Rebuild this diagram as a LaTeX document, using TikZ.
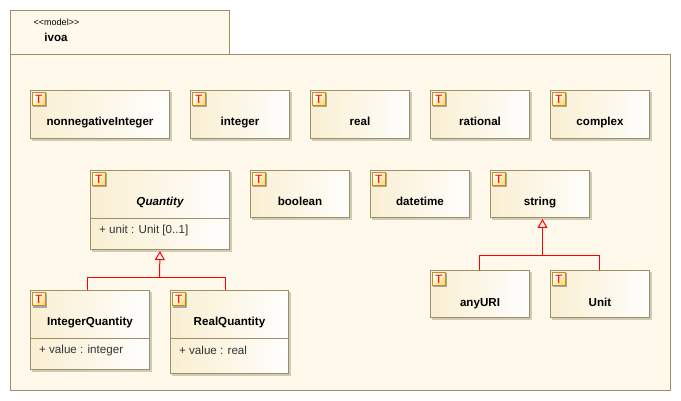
\documentclass[tikz,border=0pt]{standalone}
\usepackage{fontspec}
\setmainfont{Liberation Sans}
\usetikzlibrary{arrows.meta,shadows}
\definecolor{pkgfill}{HTML}{FFF9EC}
\definecolor{pkgline}{HTML}{A08F63}
\definecolor{boxfill}{HTML}{F9EFD2}
\definecolor{iconline}{HTML}{C0901A}
\definecolor{iconfill}{HTML}{FBD97E}
\definecolor{shadowline}{HTML}{D0CAB8}
\tikzset{
	pkgbox/.style={draw=pkgline, fill=pkgfill, line width=1pt},
	typebox/.style={draw=pkgline, line width=1pt, left color=boxfill, right color=white, middle color=white!45!boxfill,
		copy shadow={shadow xshift=2pt, shadow yshift=-2pt, draw=shadowline, fill=shadowline},
		inner sep=0pt, minimum width=99pt, minimum height=47pt, text height=24pt, text depth=2pt, font=\fontsize{11.6}{13}\selectfont\bfseries},
	lowbox/.style={typebox, text height=26pt},
	typeicon/.style={draw=iconline, line width=1pt, left color=white, right color=iconfill, shading angle=45,
		copy shadow={shadow xshift=1.5pt, shadow yshift=-1.5pt, draw=black!35, fill=black!35},
		inner sep=0pt, minimum size=13pt, text=red, font=\fontsize{12}{12}\selectfont},
	attr/.style={anchor=west, inner sep=0pt, text=black!80, font=\fontsize{11.6}{13}\selectfont},
	genline/.style={draw=red, line width=1pt},
	gentip/.style={draw=red, line width=1pt, shorten >=1pt, -{Triangle[open, length=9pt, width=10pt, fill=pkgfill]}},
}
\begin{document}
\begin{tikzpicture}[x=1pt, y=-1pt]
	\useasboundingbox (0,0) rectangle (681,401);

	% Package
	\draw[pkgbox] (10.5,10.5) rectangle (229.5,54.5);
	\draw[pkgbox] (10.5,54.5) rectangle (670.5,390.5);
	\node[inner sep=0pt, font=\fontsize{9}{10}\selectfont] (stereo) at (56.5,22) {{<}{<}model{>}{>}};
	\node[inner sep=0pt, font=\fontsize{11.6}{13}\selectfont\bfseries] (ivoa) at (56,37) {ivoa};

	% Top row
	\node[typebox, minimum width=139pt, minimum height=48pt] (nonneg) at (100,114.5) {nonnegativeInteger};
	\node[typebox, minimum height=48pt] (integer) at (240,114.5) {integer};
	\node[typebox, minimum height=48pt] (real) at (360,114.5) {real};
	\node[typebox, minimum height=48pt] (rational) at (480,114.5) {rational};
	\node[typebox, minimum height=48pt] (complex) at (600,114.5) {complex};

	% Middle row
	\node[typebox, minimum width=139pt, minimum height=79pt, text height=8pt, text depth=16pt] (quantity) at (160,210) {\itshape Quantity};
	\node[lowbox] (boolean) at (300,194) {boolean};
	\node[lowbox] (datetime) at (420,194) {datetime};
	\node[lowbox] (string) at (540,194) {string};

	% Bottom row
	\node[lowbox] (anyuri) at (480,294) {anyURI};
	\node[lowbox] (unit) at (600,294) {Unit};
	\node[typebox, minimum width=119pt, minimum height=79pt, text height=8pt, text depth=16pt] (intq) at (90,330) {IntegerQuantity};
	\node[typebox, minimum width=118pt, minimum height=83pt, text height=8pt, text depth=20pt] (realq) at (229.5,332) {RealQuantity};

	% Compartments
	\draw[draw=pkgline, line width=1pt] (quantity.west |- 0,218.5) -- (quantity.east |- 0,218.5);
	\draw[draw=pkgline, line width=1pt] (intq.west |- 0,338.5) -- (intq.east |- 0,338.5);
	\draw[draw=pkgline, line width=1pt] (realq.west |- 0,338.5) -- (realq.east |- 0,338.5);
	\node[attr] (unitattr) at (99,230.5) {+ unit : Unit [0..1]};
	\node[attr] (intattr) at (39,350.5) {+ value : integer};
	\node[attr] (realattr) at (179,350.5) {+ value : real};

	% Icons
	\node[typeicon] (nonnegT) at (38.8,99) {T};
	\node[typeicon] (integerT) at (198.8,99) {T};
	\node[typeicon] (realT) at (318.8,99) {T};
	\node[typeicon] (rationalT) at (438.8,99) {T};
	\node[typeicon] (complexT) at (558.8,99) {T};
	\node[typeicon] (quantityT) at (98.8,179) {T};
	\node[typeicon] (booleanT) at (258.8,179) {T};
	\node[typeicon] (datetimeT) at (378.8,179) {T};
	\node[typeicon] (stringT) at (498.8,179) {T};
	\node[typeicon] (anyuriT) at (438.8,279) {T};
	\node[typeicon] (unitT) at (558.8,279) {T};
	\node[typeicon] (intqT) at (38.8,299) {T};
	\node[typeicon] (realqT) at (178.8,299) {T};

	% Generalizations
	\coordinate (quantityjoin) at (159.5,277.5);
	\coordinate (stringjoin) at (542.5,255.5);
	\coordinate (intqtop) at (87.5,290.5);
	\coordinate (realqtop) at (225.5,290.5);
	\coordinate (anyuritop) at (479.5,270.5);
	\coordinate (unittop) at (599.5,270.5);
	\draw[genline] (intqtop) |- (quantityjoin) -| (realqtop);
	\draw[gentip] (quantityjoin) -- (quantity.south);
	\draw[genline] (anyuritop) |- (stringjoin) -| (unittop);
	\draw[gentip] (stringjoin) -- (stringjoin |- string.south);
\end{tikzpicture}
\end{document}
